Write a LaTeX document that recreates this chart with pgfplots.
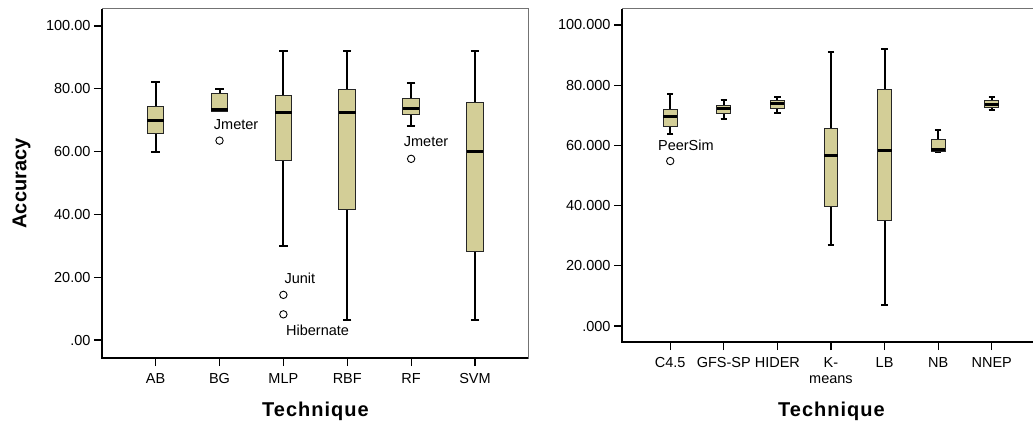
\documentclass[border=0pt]{standalone}
\usepackage{pgfplots}
\pgfplotsset{compat=1.18}
\usepgfplotslibrary{statistics}
\usepackage{fontspec}
\setmainfont{Liberation Sans}
\definecolor{spss}{RGB}{211,206,151}
\pgfplotsset{
  spssaxis/.style={
    scale only axis,
    clip=false,
    tick align=outside,
    major tick length=8pt,
    xtick pos=bottom, ytick pos=left,
    tick style={black, line width=1.2pt},
    axis line style={draw=black!55, line width=1pt},
    ytick={0,20,40,60,80,100},
    ticklabel style={font=\fontsize{14.5}{15.5}\selectfont},
    xticklabel style={yshift=-4pt},
    label style={font=\fontsize{20}{24}\selectfont\bfseries},
    boxplot/draw direction=y,
    boxplot/every box/.style={draw=black!85, line width=1pt},
    boxplot/every whisker/.style={black, line width=2pt},
    boxplot/every median/.style={black, line width=3pt},
  },
  sb/.style={boxplot prepared={draw direction=y, #1}, fill=spss, draw=black, mark=o, mark size=3.7pt,
    mark options={black, line width=0.9pt, solid}},
}
\tikzset{olab/.style={anchor=west, inner sep=0pt, font=\fontsize{14.5}{16}\selectfont}}
\begin{document}
\begin{tikzpicture}
% ---------- left panel ----------
\begin{axis}[spssaxis,
  at={(102pt,66pt)}, anchor=south west,
  width=426pt, height=349pt,
  xmin=-0.84, xmax=5.83, ymin=-5.7, ymax=105.4,
  xtick={0,1,2,3,4,5},
  xticklabels={AB,BG,MLP,RBF,RF,SVM},
  yticklabels={.00,20.00,40.00,60.00,80.00,100.00},
  xlabel={\addfontfeatures{LetterSpace=5}Technique}, ylabel={Accuracy},
  xlabel style={at={(axis description cs:0.501,-0.154)}, anchor=center},
  ylabel style={at={(axis description cs:-0.1885,0.5)}, anchor=center},
  boxplot/box extend=0.26, boxplot/whisker extend=0.13,
]
\addplot[sb={draw position=0, lower whisker=59.9, lower quartile=65.8, median=69.8, upper quartile=74.3, upper whisker=82.3}] coordinates {};
\addplot[sb={draw position=1, lower whisker=72.9, lower quartile=72.9, median=73.5, upper quartile=78.6, upper whisker=79.8}] table[row sep=\\, y index=0] {y\\ 63.5\\};
\addplot[sb={draw position=2, lower whisker=30.0, lower quartile=57.1, median=72.6, upper quartile=77.8, upper whisker=92.1}] table[row sep=\\, y index=0] {y\\ 14.4\\ 8.2\\};
\addplot[sb={draw position=3, lower whisker=6.3, lower quartile=41.7, median=72.6, upper quartile=79.8, upper whisker=92.1}] coordinates {};
\addplot[sb={draw position=4, lower whisker=68.3, lower quartile=71.7, median=73.7, upper quartile=76.8, upper whisker=81.7}] table[row sep=\\, y index=0] {y\\ 57.7\\};
\addplot[sb={draw position=5, lower whisker=6.3, lower quartile=28.1, median=60.1, upper quartile=75.7, upper whisker=92.1}] coordinates {};
\node[olab] at (axis cs:0.91,68.7) {Jmeter};
\node[olab] at (axis cs:3.884,63.2) {Jmeter};
\node[olab] at (axis cs:2.016,19.6) {Junit};
\node[olab] at (axis cs:2.04,3.2) {Hibernate};
\draw[black, line width=1.6pt] (rel axis cs:0,1) -- (rel axis cs:0,0) -- (rel axis cs:1,0);
\end{axis}
% ---------- right panel ----------
\begin{axis}[spssaxis,
  at={(622pt,82pt)}, anchor=south west,
  width=419pt, height=333pt,
  xmin=-0.9, xmax=6.92, ymin=-5.3, ymax=105.3,
  xtick={0,1,2,3,4,5,6},
  xticklabels={C4.5,GFS-SP,HIDER,{K-\\means},LB,NB,NNEP},
  xticklabel style={align=center},
  yticklabels={.000,20.000,40.000,60.000,80.000,100.000},
  xlabel={\addfontfeatures{LetterSpace=5}Technique},
  xlabel style={at={(axis description cs:0.5,-0.207)}, anchor=center},
  boxplot/box extend=0.26, boxplot/whisker extend=0.12,
]
\addplot[sb={draw position=0, lower whisker=63.7, lower quartile=66.4, median=69.7, upper quartile=72.0, upper whisker=77.2}] table[row sep=\\, y index=0] {y\\ 54.8\\};
\addplot[sb={draw position=1, lower whisker=68.9, lower quartile=70.7, median=72.1, upper quartile=73.1, upper whisker=75.1}] coordinates {};
\addplot[sb={draw position=2, lower whisker=70.9, lower quartile=72.3, median=73.8, upper quartile=74.9, upper whisker=76.0}] coordinates {};
\addplot[sb={draw position=3, lower whisker=27.0, lower quartile=39.6, median=56.8, upper quartile=65.7, upper whisker=90.9}] coordinates {};
\addplot[sb={draw position=4, lower whisker=7.0, lower quartile=35.2, median=58.4, upper quartile=78.6, upper whisker=92.1}] coordinates {};
\addplot[sb={draw position=5, lower whisker=57.9, lower quartile=57.9, median=58.5, upper quartile=61.8, upper whisker=65.0}] coordinates {};
\addplot[sb={draw position=6, lower whisker=71.8, lower quartile=72.7, median=73.7, upper quartile=74.9, upper whisker=76.0}] coordinates {};
\node[olab] at (axis cs:-0.23,60.0) {PeerSim};
\draw[black, line width=1.6pt] (rel axis cs:0,1) -- (rel axis cs:0,0) -- (rel axis cs:1,0);
\end{axis}
\pgfresetboundingbox
\path[use as bounding box] (0pt,0pt) rectangle (1033pt,424pt);
\end{tikzpicture}
\end{document}
